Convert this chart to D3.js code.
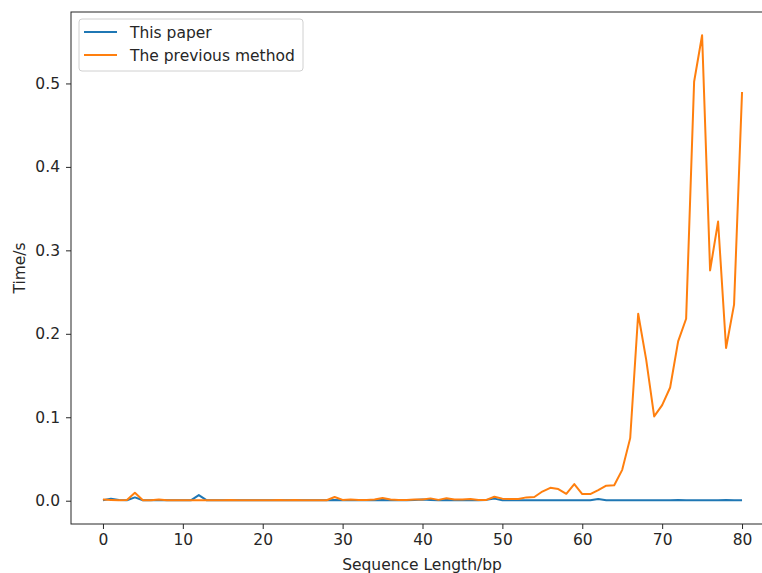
<!DOCTYPE html>
<html>
<head>
<meta charset="utf-8">
<script src="https://cdn.jsdelivr.net/npm/d3@7"></script>
<style>
  body { margin: 0; background: #fff; }
  svg text { font-family: "DejaVu Sans", sans-serif; fill: #262626; }
</style>
</head>
<body>
<div id="chart"></div>
<script>
// sequence lengths 0..80
const lengths = d3.range(0, 81);

// time (s) for this paper's method
const thisPaper = [
  0.0005, 0.0025, 0.001, 0.0005, 0.004, 0.0005, 0.0005, 0.001, 0.0005, 0.0005,
  0.0005, 0.0005, 0.0068, 0.0005, 0.0005, 0.0005, 0.0005, 0.0005, 0.0005, 0.0005,
  0.0005, 0.0005, 0.0005, 0.0005, 0.0005, 0.0005, 0.0005, 0.0005, 0.0005, 0.001,
  0.0005, 0.0005, 0.0005, 0.0005, 0.0005, 0.001, 0.0005, 0.0005, 0.0005, 0.001,
  0.0015, 0.001, 0.0005, 0.001, 0.0005, 0.0005, 0.0005, 0.0005, 0.001, 0.0025,
  0.0005, 0.0005, 0.0005, 0.0005, 0.0005, 0.0005, 0.0005, 0.0005, 0.0005, 0.0005,
  0.0005, 0.0005, 0.002, 0.0005, 0.0005, 0.0005, 0.0005, 0.0005, 0.0005, 0.0005,
  0.0005, 0.0005, 0.001, 0.0005, 0.0005, 0.0005, 0.0005, 0.0005, 0.001, 0.0005,
  0.0005
];

// time (s) for the previous method
const previous = [
  0.0015, 0.001, 0.0005, 0.001, 0.0095, 0.0005, 0.0005, 0.0015, 0.0005, 0.0005,
  0.0005, 0.0005, 0.0005, 0.0005, 0.0005, 0.0005, 0.001, 0.0005, 0.0005, 0.0005,
  0.0005, 0.0005, 0.001, 0.0005, 0.001, 0.0005, 0.0005, 0.0005, 0.0005, 0.0044,
  0.001, 0.0015, 0.001, 0.001, 0.0015, 0.0032, 0.0015, 0.001, 0.001, 0.0015,
  0.0015, 0.0028, 0.001, 0.003, 0.0015, 0.0015, 0.002, 0.001, 0.001, 0.0048,
  0.0025, 0.002, 0.002, 0.004, 0.0045, 0.011, 0.0155, 0.014, 0.0083, 0.02,
  0.008, 0.008, 0.0127, 0.018, 0.0185, 0.037, 0.075, 0.224, 0.169, 0.101,
  0.1146, 0.1357, 0.191, 0.218, 0.502, 0.5577, 0.276, 0.3345, 0.183, 0.235,
  0.4897
];

const seriesNames = ['This paper', 'The previous method'];
const xTicks = [0, 10, 20, 30, 40, 50, 60, 70, 80];
const yTicks = [0.0, 0.1, 0.2, 0.3, 0.4, 0.5];

const width = 762, height = 573;
const margin = { top: 12, left: 71, bottom: 49 };
const plotRight = 774; // right spine falls outside the picture
const fontSize = '15.5px';

const svg = d3.select('#chart').append('svg')
  .attr('width', width)
  .attr('height', height);

const x = d3.scaleLinear().domain([-4, 84]).range([margin.left, plotRight]);
const y = d3.scaleLinear().domain([-0.0279, 0.5856]).range([height - margin.bottom, margin.top]);

// axes
const xAxis = svg.append('g')
  .attr('transform', `translate(0, ${height - margin.bottom})`)
  .call(d3.axisBottom(x).tickValues(xTicks).tickFormat(d3.format('d')).tickSize(5).tickPadding(5));

const yAxis = svg.append('g')
  .attr('transform', `translate(${margin.left}, 0)`)
  .call(d3.axisLeft(y).tickValues(yTicks).tickFormat(d3.format('.1f')).tickSize(5).tickPadding(6));

[xAxis, yAxis].forEach(ax => {
  ax.select('.domain').remove();
  ax.selectAll('line').attr('stroke', '#262626').attr('stroke-width', 1);
  ax.selectAll('text').style('font-size', fontSize).attr('fill', '#262626');
});

// spines
svg.append('rect')
  .attr('x', margin.left)
  .attr('y', margin.top)
  .attr('width', plotRight - margin.left)
  .attr('height', height - margin.bottom - margin.top)
  .attr('fill', 'none')
  .attr('stroke', '#262626')
  .attr('stroke-width', 1);

// lines
const line = d3.line().x((d, i) => x(lengths[i])).y(d => y(d));
const colors = ['#1f77b4', '#ff7f0e'];

[thisPaper, previous].forEach((s, k) => {
  svg.append('path')
    .datum(s)
    .attr('fill', 'none')
    .attr('stroke', colors[k])
    .attr('stroke-width', 2)
    .attr('stroke-linejoin', 'round')
    .attr('d', line);
});

// axis labels
svg.append('text')
  .attr('x', 422)
  .attr('y', 570)
  .attr('text-anchor', 'middle')
  .style('font-size', fontSize)
  .text('Sequence Length/bp');

svg.append('text')
  .attr('transform', `translate(25, ${(margin.top + height - margin.bottom) / 2}) rotate(-90)`)
  .attr('text-anchor', 'middle')
  .style('font-size', fontSize)
  .text('Time/s');

// legend
const legend = svg.append('g');
legend.append('rect')
  .attr('x', 79).attr('y', 19)
  .attr('width', 224).attr('height', 52)
  .attr('rx', 3)
  .attr('fill', '#fff')
  .attr('fill-opacity', 0.8)
  .attr('stroke', '#d0d0d0');

seriesNames.forEach((name, k) => {
  const ly = 32 + k * 23;
  legend.append('line')
    .attr('x1', 84).attr('x2', 117)
    .attr('y1', ly).attr('y2', ly)
    .attr('stroke', colors[k])
    .attr('stroke-width', 2);
  legend.append('text')
    .attr('x', 130).attr('y', ly + 5.5)
    .style('font-size', fontSize)
    .text(name);
});
</script>
</body>
</html>
